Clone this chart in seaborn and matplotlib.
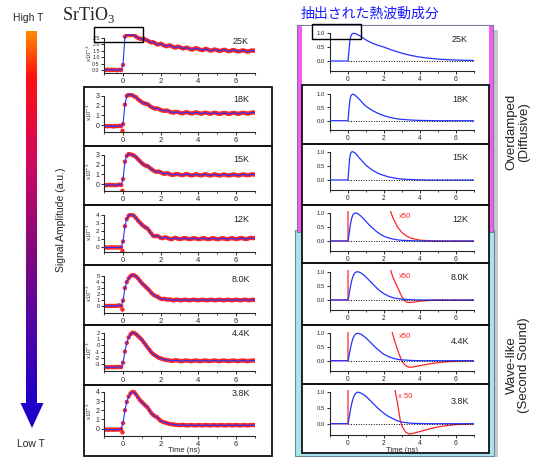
import numpy as np
import pandas as pd
import matplotlib
matplotlib.use("Agg")
import matplotlib.pyplot as plt
import seaborn as sns
from matplotlib.patches import Rectangle, Polygon
from matplotlib.colors import LinearSegmentedColormap

sns.set_style("ticks")
plt.rcParams['font.family'] = ['Liberation Sans', 'DejaVu Sans']

W, H = 534, 457

# ---------------- data ----------------
temps = ["25K", "18K", "15K", "12K", "8.0K", "4.4K", "3.8K"]

# measured signal (x10^-3), time grid -1.0 .. 7.0 ns, step 0.1
t_exp = np.round(np.linspace(-1.0, 7.0, 81), 2)

sig_25K = [0.02, 0.0, 0.03, -0.01, 0.02, 0.0, 0.01, -0.02, 0.02, 0.0,
           0.4, 2.6, 2.72, 2.75, 2.72, 2.75, 2.7, 2.6, 2.5, 2.45,
           2.42, 2.45, 2.35, 2.3, 2.22, 2.15, 2.18, 2.1, 2.0, 2.0,
           2.05, 1.98, 1.9, 1.85, 1.9, 1.92, 1.85, 1.78, 1.75, 1.82,
           1.8, 1.72, 1.68, 1.72, 1.75, 1.68, 1.62, 1.6, 1.68, 1.7,
           1.65, 1.58, 1.55, 1.6, 1.65, 1.6, 1.53, 1.52, 1.58, 1.6,
           1.55, 1.5, 1.5, 1.56, 1.58, 1.52, 1.47, 1.48, 1.55, 1.55,
           1.5, 1.45, 1.46, 1.52, 1.53, 1.48, 1.44, 1.46, 1.52, 1.52,
           1.5]
sig_18K = [-0.12, -0.1, -0.13, -0.1, -0.12, -0.15, -0.1, -0.12, -0.08, -0.1,
           0.1, 2.1, 3.0, 3.15, 3.1, 3.05, 2.95, 2.85, 2.65, 2.5,
           2.35, 2.25, 2.2, 2.15, 2.0, 1.85, 1.75, 1.7, 1.72, 1.65,
           1.55, 1.5, 1.45, 1.5, 1.45, 1.35, 1.3, 1.28, 1.35, 1.35,
           1.28, 1.22, 1.22, 1.3, 1.32, 1.25, 1.2, 1.2, 1.28, 1.3,
           1.25, 1.18, 1.18, 1.25, 1.28, 1.22, 1.16, 1.18, 1.25, 1.27,
           1.2, 1.15, 1.17, 1.24, 1.25, 1.2, 1.15, 1.17, 1.24, 1.25,
           1.2, 1.16, 1.18, 1.25, 1.26, 1.22, 1.18, 1.2, 1.27, 1.3,
           1.28]
sig_15K = [-0.1, -0.12, -0.1, -0.08, -0.12, -0.1, -0.13, -0.1, -0.05, -0.1,
           0.5, 2.3, 2.9, 3.1, 3.05, 3.0, 2.9, 2.75, 2.55, 2.35,
           2.15, 2.0, 1.9, 1.85, 1.7, 1.55, 1.4, 1.3, 1.25, 1.28,
           1.2, 1.1, 1.05, 1.1, 1.1, 1.0, 0.95, 0.95, 1.02, 1.03,
           0.97, 0.92, 0.92, 1.0, 1.02, 0.96, 0.9, 0.9, 0.98, 1.0,
           0.95, 0.9, 0.9, 0.98, 1.0, 0.94, 0.88, 0.9, 0.97, 0.99,
           0.93, 0.88, 0.9, 0.97, 0.98, 0.92, 0.88, 0.9, 0.97, 0.98,
           0.93, 0.88, 0.9, 0.97, 0.99, 0.94, 0.9, 0.92, 0.98, 1.0,
           0.97]
sig_12K = [-0.05, -0.05, -0.08, -0.05, -0.05, -0.06, -0.05, -0.05, -0.05, -0.05,
           0.7, 2.6, 3.5, 3.9, 4.05, 4.0, 3.85, 3.6, 3.3, 3.05,
           2.8, 2.6, 2.45, 2.3, 2.0, 1.7, 1.4, 1.35, 1.4, 1.3,
           1.15, 1.1, 1.2, 1.2, 1.1, 1.0, 1.0, 1.1, 1.15, 1.05,
           1.0, 1.02, 1.1, 1.12, 1.05, 1.0, 1.0, 1.08, 1.1, 1.05,
           0.98, 1.0, 1.08, 1.1, 1.04, 0.98, 1.0, 1.08, 1.1, 1.03,
           0.98, 1.0, 1.08, 1.1, 1.04, 0.98, 1.0, 1.08, 1.1, 1.05,
           1.0, 1.02, 1.1, 1.12, 1.06, 1.0, 1.02, 1.1, 1.15, 1.1,
           1.15]
sig_8K = [0.0, 0.02, 0.0, 0.03, 0.0, 0.02, 0.0, 0.05, 0.1, 0.0,
          0.9, 3.0, 4.0, 4.6, 5.0, 5.15, 5.1, 4.9, 4.6, 4.2,
          3.8, 3.5, 3.2, 2.9, 2.6, 2.2, 1.9, 1.7, 1.6, 1.4,
          1.2, 1.15, 1.2, 1.1, 1.05, 1.1, 1.0, 0.95, 1.05, 1.05,
          0.98, 0.95, 1.02, 1.05, 1.0, 0.95, 0.97, 1.05, 1.05, 0.98,
          0.95, 1.0, 1.05, 1.02, 0.96, 0.96, 1.03, 1.05, 0.98, 0.95,
          1.0, 1.05, 1.02, 0.96, 0.96, 1.03, 1.05, 0.98, 0.95, 1.0,
          1.05, 1.02, 0.96, 0.97, 1.03, 1.05, 1.0, 0.96, 1.0, 1.05,
          1.0]
sig_4K4 = [-3.5, -3.5, -3.55, -3.5, -3.5, -3.52, -3.5, -3.5, -3.48, -3.5,
           -2.8, -1.0, 0.4, 1.3, 1.8, 2.05, 2.0, 1.8, 1.5, 1.2,
           0.9, 0.5, 0.1, -0.3, -0.7, -1.1, -1.4, -1.6, -1.8, -2.0,
           -2.1, -2.2, -2.3, -2.35, -2.4, -2.45, -2.5, -2.45, -2.4, -2.45,
           -2.5, -2.55, -2.5, -2.45, -2.45, -2.5, -2.55, -2.5, -2.45, -2.45,
           -2.5, -2.55, -2.5, -2.45, -2.45, -2.5, -2.55, -2.5, -2.45, -2.45,
           -2.5, -2.55, -2.5, -2.45, -2.45, -2.5, -2.55, -2.5, -2.45, -2.45,
           -2.5, -2.55, -2.5, -2.45, -2.45, -2.5, -2.55, -2.5, -2.45, -2.45,
           -2.45]
sig_3K8 = [-0.1, -0.1, -0.12, -0.1, -0.1, -0.12, -0.1, -0.1, -0.1, -0.05,
           0.6, 2.0, 2.9, 3.5, 3.85, 4.0, 3.95, 3.7, 3.4, 3.1,
           2.9, 2.7, 2.5, 2.3, 2.0, 1.7, 1.5, 1.35, 1.25, 1.05,
           0.85, 0.75, 0.68, 0.62, 0.55, 0.5, 0.48, 0.45, 0.42, 0.4,
           0.38, 0.4, 0.42, 0.38, 0.35, 0.37, 0.4, 0.38, 0.35, 0.36,
           0.4, 0.38, 0.35, 0.37, 0.4, 0.38, 0.35, 0.36, 0.4, 0.38,
           0.35, 0.37, 0.4, 0.38, 0.35, 0.36, 0.4, 0.38, 0.35, 0.37,
           0.4, 0.38, 0.35, 0.36, 0.4, 0.38, 0.35, 0.37, 0.4, 0.4,
           0.38]
signals = [sig_25K, sig_18K, sig_15K, sig_12K, sig_8K, sig_4K4, sig_3K8]

# stray point just before t = 0
dip_time = -0.03
dip_value = [np.nan, -0.6, -0.7, -0.5, -0.6, np.nan, -0.4]

# extracted thermal-wave component (normalized)
t_fit = [-1.0, 0.0, 0.05, 0.1, 0.15, 0.2, 0.25, 0.3, 0.4, 0.5, 0.6, 0.7, 0.8, 0.9,
         1.0, 1.2, 1.4, 1.6, 1.8, 2.0, 2.25, 2.5, 2.75, 3.0, 3.5, 4.0, 4.5, 5.0,
         5.5, 6.0, 6.5, 7.0]
fit_25K = [0, 0, 0.35, 0.7, 0.88, 0.96, 0.99, 1.0, 0.99, 0.96, 0.93, 0.89, 0.85, 0.8,
           0.76, 0.69, 0.63, 0.58, 0.54, 0.5, 0.44, 0.38, 0.33, 0.28, 0.2, 0.14, 0.1, 0.07,
           0.05, 0.035, 0.025, 0.02]
fit_18K = [0, 0, 0.4, 0.75, 0.92, 0.98, 1.0, 1.0, 0.96, 0.9, 0.83, 0.76, 0.68, 0.61,
           0.55, 0.45, 0.37, 0.3, 0.24, 0.19, 0.14, 0.1, 0.07, 0.05, 0.025, 0.01, 0.005, 0,
           0, 0, 0, 0]
fit_15K = [0, 0, 0.45, 0.8, 0.94, 0.99, 1.0, 0.99, 0.95, 0.88, 0.8, 0.73, 0.66, 0.59,
           0.52, 0.42, 0.33, 0.26, 0.2, 0.16, 0.11, 0.08, 0.05, 0.035, 0.015, 0.005, 0, 0,
           0, 0, 0, 0]
fit_12K = [0, 0, 0.2, 0.45, 0.65, 0.8, 0.9, 0.96, 1.0, 0.99, 0.95, 0.9, 0.84, 0.77,
           0.7, 0.56, 0.44, 0.33, 0.24, 0.17, 0.11, 0.07, 0.04, 0.025, 0.01, 0.003, 0, 0,
           0, 0, 0, 0]
fit_8K = [0, 0, 0.15, 0.35, 0.52, 0.67, 0.78, 0.87, 0.97, 1.0, 0.99, 0.96, 0.92, 0.87,
          0.81, 0.68, 0.55, 0.42, 0.31, 0.22, 0.14, 0.08, 0.05, 0.03, 0.01, 0, 0, 0,
          0, 0, 0, 0]
fit_4K4 = [0, 0, 0.15, 0.33, 0.5, 0.64, 0.76, 0.85, 0.96, 1.0, 0.99, 0.97, 0.93, 0.88,
           0.83, 0.7, 0.57, 0.44, 0.33, 0.23, 0.15, 0.09, 0.05, 0.03, 0.01, 0, 0, 0,
           0, 0, 0, 0]
fit_3K8 = [0, 0, 0.15, 0.32, 0.48, 0.62, 0.74, 0.83, 0.95, 1.0, 1.0, 0.98, 0.95, 0.91,
           0.87, 0.76, 0.64, 0.53, 0.42, 0.33, 0.23, 0.16, 0.09, 0.05, 0.015, 0.005, 0, 0,
           0, 0, 0, 0]
fits = [fit_25K, fit_18K, fit_15K, fit_12K, fit_8K, fit_4K4, fit_3K8]

# x50 residual (red)
red_t_12K = [-1.0, 0.0, 0.0, 2.2, 2.37, 2.5, 2.75, 3.0, 3.25, 3.5, 4.0, 4.5, 5.0, 7.0]
red_v_12K = [0, 0, 1.6, 1.6, 1.05, 0.82, 0.5, 0.3, 0.18, 0.1, 0.03, 0.01, 0, 0]
red_t_8K = [-1.0, 0.0, 0.0, 2.2, 2.37, 2.5, 2.75, 3.0, 3.1, 3.25, 3.4, 3.6, 4.0, 4.5, 5.0, 7.0]
red_v_8K = [0, 0, 1.7, 1.7, 1.05, 0.8, 0.45, 0.1, 0.0, -0.07, -0.09, -0.08, -0.04, -0.015, 0, 0]
red_t_4K4 = [-1.0, 0.0, 0.0, 2.3, 2.45, 2.6, 2.75, 3.0, 3.2, 3.4, 3.6, 4.0, 4.5, 5.0, 5.5, 6.0, 7.0]
red_v_4K4 = [0, 0, 1.5, 1.5, 1.05, 0.7, 0.4, -0.03, -0.18, -0.24, -0.23, -0.18, -0.12, -0.07, -0.04, -0.02, 0]
red_t_3K8 = [-1.0, 0.0, 0.0, 2.5, 2.62, 2.75, 2.9, 3.0, 3.2, 3.4, 3.6, 4.0, 4.5, 5.0, 5.5, 6.0, 6.5, 7.0]
red_v_3K8 = [0, 0, 1.5, 1.5, 1.05, 0.65, 0.12, -0.08, -0.27, -0.33, -0.31, -0.25, -0.17, -0.1, -0.06, -0.03, -0.015, 0]
reds = {3: (red_t_12K, red_v_12K, "x50"), 4: (red_t_8K, red_v_8K, "x50"),
        5: (red_t_4K4, red_v_4K4, "x50"), 6: (red_t_3K8, red_v_3K8, "x 50")}

left_yticks = [[0.0, 0.5, 1.0, 1.5, 2.0, 2.5], [0, 1, 2, 3], [0, 1, 2, 3], [0, 1, 2, 3, 4],
               [0, 1, 2, 3, 4, 5], [-3, -2, -1, 0, 1, 2], [0, 1, 2, 3, 4]]
left_fmt = ["{:.1f}", "{:.0f}", "{:.0f}", "{:.0f}", "{:.0f}", "{:.0f}", "{:.0f}"]
left_ylim = [(-0.25, 2.85), (-0.75, 3.3), (-0.75, 3.3), (-0.62, 4.3), (-1.1, 5.5),
             (-4.2, 2.6), (-0.8, 4.5)]

# ---------------- layout (pixels) ----------------
left_px = [(33.5, 73.2), (93, 132.3), (152, 191.3), (212.6, 252), (273, 312.6),
           (329.3, 371.4), (387.3, 436)]
left_ytick_fs = [3.8, 5, 5, 4.6, 4.2, 4.2, 5]
right_zero = [61, 120.7, 180, 241, 300, 360.7, 423.7]
right_one = [33.3, 94.3, 151.7, 213, 271.7, 333.3, 392.3]
left_box = [(87, 146), (146, 205), (205, 265), (265, 325), (325, 385), (385, 456)]
right_box = [(85, 144), (144, 205), (205, 263), (263, 325), (325, 384), (384, 453)]
left_lab_y = [41, 99, 160, 219, 280, 334, 393]
right_lab_y = [39, 99, 158, 219, 278, 341, 401]
x50_y = [216, 277, 337, 397]

RED = '#ff2626'
BLUE = '#2233ff'

fig = plt.figure(figsize=(W / 100, H / 100), dpi=100)


def fx(x):
    return x / W


def fy(y):
    return 1 - y / H


def px_ax(left, top, right, bottom):
    return fig.add_axes([left / W, 1 - bottom / H, (right - left) / W, (bottom - top) / H])


def style_ax(ax, ylim, yticks, fmt, fs, yfs):
    ax.set_xlim(-1, 7)
    ax.set_ylim(*ylim)
    ax.set_facecolor('none')
    ax.spines['top'].set_visible(False)
    ax.spines['right'].set_visible(False)
    ax.spines['left'].set_bounds(ylim[0], yticks[-1])
    ax.spines['bottom'].set_bounds(-1, 7)
    for s in ['left', 'bottom']:
        ax.spines[s].set_linewidth(0.8)
    ax.set_xticks([0, 2, 4, 6])
    ax.set_xticks([-1, 1, 3, 5, 7], minor=True)
    ax.set_yticks(yticks)
    ax.set_yticklabels([fmt.format(v) for v in yticks])
    ax.tick_params(axis='both', which='major', length=2.5, width=0.7, pad=1.2)
    ax.tick_params(axis='x', labelsize=fs)
    ax.tick_params(axis='y', labelsize=yfs, pad=0.8)
    ax.tick_params(axis='both', which='minor', length=1.5, width=0.6)
    ax.set_xlabel('')
    ax.set_ylabel('')


# ---------------- frames (background) ----------------
fig.add_artist(Rectangle((fx(493), fy(457)), 5 / W, (457 - 30) / H, transform=fig.transFigure,
                         facecolor='#c8c8c8', edgecolor='none', zorder=-5))
fig.add_artist(Rectangle((fx(294.5), fy(456)), (494 - 294.5) / W, (456 - 230) / H,
                         transform=fig.transFigure, facecolor='#a9e4ee', edgecolor='#6a8a9a',
                         lw=0.8, zorder=-4))
fig.add_artist(Rectangle((fx(297), fy(232)), (493 - 297) / W, (232 - 25) / H,
                         transform=fig.transFigure, facecolor='#f55cf0', edgecolor='#7a7aa0',
                         lw=0.8, zorder=-3))
fig.add_artist(Rectangle((fx(302), fy(453)), (489 - 302) / W, (453 - 26) / H,
                         transform=fig.transFigure, facecolor='white', edgecolor='none',
                         zorder=-2))

for (t0, t1) in left_box:
    fig.add_artist(Rectangle((fx(84), fy(t1)), (272 - 84) / W, (t1 - t0) / H,
                             transform=fig.transFigure, facecolor='none', edgecolor='#111111',
                             lw=1.3, zorder=-1))
for (t0, t1) in right_box:
    fig.add_artist(Rectangle((fx(302), fy(t1)), (489 - 302) / W, (t1 - t0) / H,
                             transform=fig.transFigure, facecolor='none', edgecolor='#111111',
                             lw=1.3, zorder=-1))

# ---------------- left column: measured signals ----------------
for i, name in enumerate(temps):
    top, bot = left_px[i]
    ax = px_ax(104.2, top, 254.8, bot)
    df = pd.DataFrame({"t": t_exp, "v": signals[i]})
    sns.scatterplot(data=df, x="t", y="v", ax=ax, color=RED, s=10, edgecolor='none',
                    linewidth=0, zorder=2)
    if not np.isnan(dip_value[i]):
        sns.scatterplot(x=[dip_time], y=[dip_value[i]], ax=ax, color=RED, s=10,
                        edgecolor='none', linewidth=0, zorder=2)
    sns.lineplot(data=df, x="t", y="v", ax=ax, color=BLUE, lw=0.8, estimator=None,
                 sort=False, zorder=3)
    style_ax(ax, left_ylim[i], left_yticks[i], left_fmt[i], 5.5, left_ytick_fs[i])
    fig.text(fx(241), fy(left_lab_y[i]), name, fontsize=6.5, ha='center', va='center',
             color='#222222')
    fig.text(fx(89), fy((top + bot) / 2), r"x10$^{-3}$", fontsize=4.3, rotation=90,
             ha='center', va='center', color='#333333')

# ---------------- right column: extracted components ----------------
for i, name in enumerate(temps):
    y0, y1 = right_zero[i], right_one[i]
    s = y0 - y1
    ax = px_ax(330, y0 - 1.06 * s, 474, y0 + 0.36 * s)
    if i in reds:
        rt, rv, lab = reds[i]
        sns.lineplot(x=rt, y=rv, ax=ax, color=RED, lw=0.9, estimator=None, sort=False,
                     zorder=2)
        fig.text(fx(405), fy(x50_y[i - 3]), lab, fontsize=5.5, ha='center', va='center',
                 color=RED)
    sns.lineplot(x=t_fit, y=fits[i], ax=ax, color=BLUE, lw=0.9, estimator=None, sort=False,
                 zorder=3)
    ax.axhline(0, xmin=0.125, xmax=1.0, color='black', ls=(0, (1, 1.6)), lw=0.7, zorder=4)
    style_ax(ax, (-0.36, 1.06), [0.0, 0.5, 1.0], "{:.1f}", 4.8, 4.3)
    fig.text(fx(460), fy(right_lab_y[i]), name, fontsize=6.5, ha='center', va='center',
             color='#222222')

# inset marker rectangles
fig.add_artist(Rectangle((fx(94), fy(42)), 49 / W, 15 / H, transform=fig.transFigure,
                         facecolor='none', edgecolor='black', lw=1.0, zorder=5))
fig.add_artist(Rectangle((fx(312), fy(39)), 49 / W, 15 / H, transform=fig.transFigure,
                         facecolor='none', edgecolor='black', lw=1.0, zorder=5))

# time labels
fig.text(fx(184), fy(451), "Time (ns)", fontsize=5.5, ha='center', va='center')
fig.text(fx(402), fy(450), "Time (ns)", fontsize=5.5, ha='center', va='center')

# ---------------- temperature arrow ----------------
cmap = LinearSegmentedColormap.from_list(
    "temp", [(0.0, '#ff8c00'), (0.12, '#ff1010'), (0.35, '#d0085e'),
             (0.6, '#80087e'), (1.0, '#1e00cc')])
cax = fig.add_axes([fx(26), fy(403), 11 / W, (403 - 31) / H])
cax.imshow(np.linspace(0, 1, 256)[:, None], aspect='auto', cmap=cmap)
cax.set_axis_off()
fig.add_artist(Polygon([[fx(20.5), fy(403)], [fx(43.5), fy(403)], [fx(32), fy(428)]],
                       closed=True, transform=fig.transFigure, facecolor='#1e00cc',
                       edgecolor='none'))
fig.text(fx(28), fy(18), "High T", fontsize=7.5, ha='center', va='center')
fig.text(fx(31), fy(444), "Low T", fontsize=7.5, ha='center', va='center')
fig.text(fx(61), fy(220), "Signal Amplitude (a.u.)", fontsize=7.5, rotation=90,
         ha='center', va='center')

# ---------------- titles ----------------
fig.text(fx(62), fy(15), r"SrTiO$_\mathregular{3}$", fontsize=13,
         family=['Liberation Serif', 'DejaVu Serif'], ha='left', va='center')
fig.text(fx(370), fy(14), "抽出された熱波動成分", fontsize=10, color='#1a1aff',
         family=['Noto Sans CJK JP', 'DejaVu Sans'], ha='center', va='center')

fig.text(fx(518), fy(132), "Overdamped\n(Diffusive)", fontsize=9.5, rotation=90,
         ha='center', va='center', linespacing=1.1, color='#222222')
fig.text(fx(518), fy(365), "Wave-like\n(Second Sound)", fontsize=9.5, rotation=90,
         ha='center', va='center', linespacing=1.1, color='#222222')

fig.savefig("out.png", dpi=100)
